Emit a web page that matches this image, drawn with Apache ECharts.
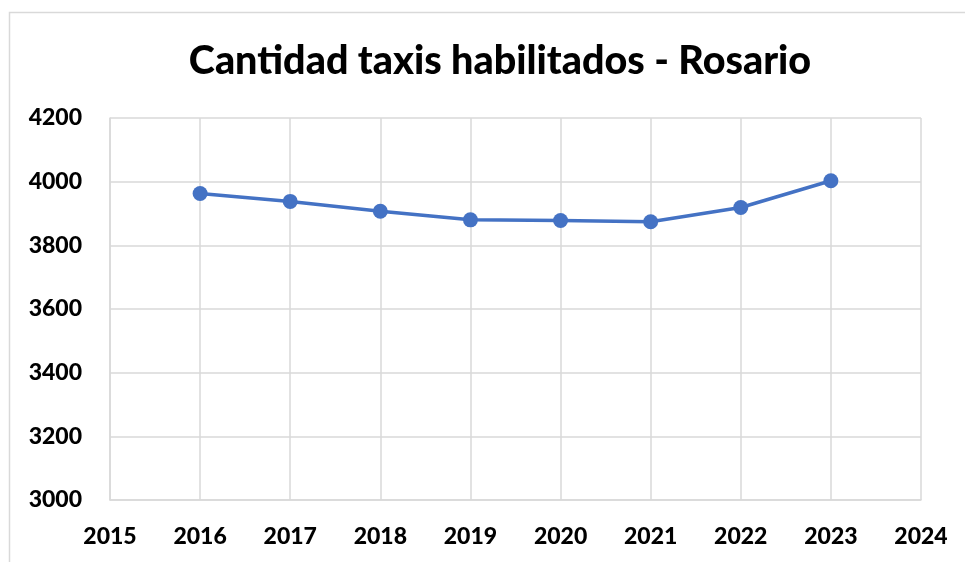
<!DOCTYPE html>
<html>
<head>
<meta charset="utf-8">
<script src="https://cdn.jsdelivr.net/npm/echarts@6/dist/echarts.min.js"></script>
<style>
  html, body { margin: 0; padding: 0; background: #fff; }
  #chart { width: 965px; height: 562px; }
</style>
</head>
<body>
<div id="chart"></div>
<script>
const years = [2016, 2017, 2018, 2019, 2020, 2021, 2022, 2023]
const taxis = [3963, 3938, 3907, 3880, 3878, 3874, 3919, 4003]

const chart = echarts.init(document.getElementById('chart'), null, { renderer: 'canvas' })
const font = 'Lato, "Open Sans", sans-serif'

chart.setOption({
  animation: false,
  backgroundColor: '#fff',
  title: {
    text: 'Cantidad taxis habilitados - Rosario',
    left: 495,
    top: 36,
    textAlign: 'center',
    textStyle: { fontFamily: font, fontWeight: 900, fontSize: 39.5, color: '#000' }
  },
  graphic: [
    {
      type: 'rect',
      shape: { x: 9.5, y: 12.5, width: 970, height: 570 },
      style: { fill: 'none', stroke: '#d9d9d9', lineWidth: 1.5 },
      silent: true
    }
  ],
  grid: { left: 110, right: 44, top: 118, bottom: 62, containLabel: false },
  xAxis: {
    type: 'value',
    min: 2015,
    max: 2024,
    interval: 1,
    axisLine: { show: true, lineStyle: { color: '#d9d9d9', width: 1.5 } },
    axisTick: { show: false },
    splitLine: { show: true, lineStyle: { color: '#d9d9d9', width: 1.5 } },
    axisLabel: {
      margin: 25,
      fontFamily: font, fontWeight: 900, fontSize: 23, color: '#000',
      formatter: v => String(v)
    }
  },
  yAxis: {
    type: 'value',
    min: 3000,
    max: 4200,
    interval: 200,
    axisLine: { show: true, lineStyle: { color: '#d9d9d9', width: 1.5 } },
    axisTick: { show: false },
    splitLine: { show: true, lineStyle: { color: '#d9d9d9', width: 1.5 } },
    axisLabel: {
      margin: 28,
      fontFamily: font, fontWeight: 900, fontSize: 23, color: '#000',
      formatter: v => String(v)
    }
  },
  series: [
    {
      type: 'line',
      data: years.map((y, i) => [y, taxis[i]]),
      symbol: 'circle',
      symbolSize: 15,
      showSymbol: true,
      lineStyle: { color: '#4472c4', width: 3.5 },
      itemStyle: { color: '#4472c4' }
    }
  ]
})
</script>
</body>
</html>
